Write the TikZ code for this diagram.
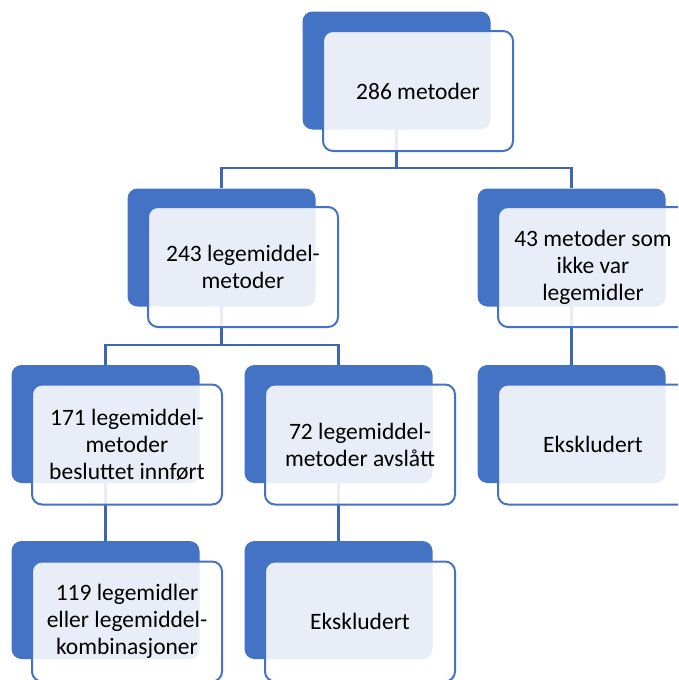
\documentclass[tikz,border=0pt]{standalone}
\usepackage{fontspec}
\setmainfont{Carlito}
\definecolor{boxblue}{HTML}{4472C4}
\definecolor{connblue}{HTML}{3D67B2}
\begin{document}
\begin{tikzpicture}[x=1pt,y=-1pt,
  backbox/.style={fill=boxblue, draw=none, rounded corners=10pt,
    minimum width=188pt, minimum height=118pt, inner sep=0pt},
  frontbox/.style={fill=white, fill opacity=0.88, text opacity=1,
    draw=boxblue, draw opacity=1, line width=2pt, rounded corners=10pt,
    minimum width=190pt, minimum height=120pt, inner sep=0pt,
    align=center, font=\fontsize{23.5pt}{27pt}\selectfont},
  conn/.style={draw=connblue, line width=2.5pt}]
\useasboundingbox (0,0) rectangle (678,680);
\clip (0,0) rectangle (678,680);
% back boxes
\node[backbox] (b1) at (396.5,70.5) {};
\node[backbox] (b2) at (221.5,247.5) {};
\node[backbox] (b3) at (571.5,247.5) {};
\node[backbox] (b4) at (105.5,424) {};
\node[backbox] (b6) at (338.5,424) {};
\node[backbox] (b8) at (571.5,424) {};
\node[backbox] (b5) at (105.5,600) {};
\node[backbox] (b7) at (338.5,600) {};
% connectors
\coordinate (j1) at (396.5,168);
\coordinate (j2) at (221.5,345);
\draw[conn] (b1.south) -- (j1) -| (b2.north);
\draw[conn] (j1) -| (b3.north);
\draw[conn] (b2.south) -- (j2) -| (b4.north);
\draw[conn] (j2) -| (b6.north);
\draw[conn] (b3.south) -- (b8.north);
\draw[conn] (b4.south) -- (b5.north);
\draw[conn] (b6.south) -- (b7.north);
% front boxes with text
\node[frontbox] (f1) at (418,91) {286 metoder};
\node[frontbox] (f2) at (243,267) {243 legemiddel-\\metoder};
\node[frontbox] (f3) at (593,267) {43 metoder som\\ikke var\\legemidler};
\node[frontbox] (f4) at (127,444.5) {171 legemiddel-\\metoder\\besluttet innført};
\node[frontbox] (f6) at (360,444.5) {72 legemiddel-\\metoder avslått};
\node[frontbox] (f8) at (593,444.5) {Ekskludert};
\node[frontbox] (f5) at (127,621.5) {119 legemidler\\eller legemiddel-\\kombinasjoner};
\node[frontbox] (f7) at (360,621.5) {Ekskludert};
\end{tikzpicture}
\end{document}
